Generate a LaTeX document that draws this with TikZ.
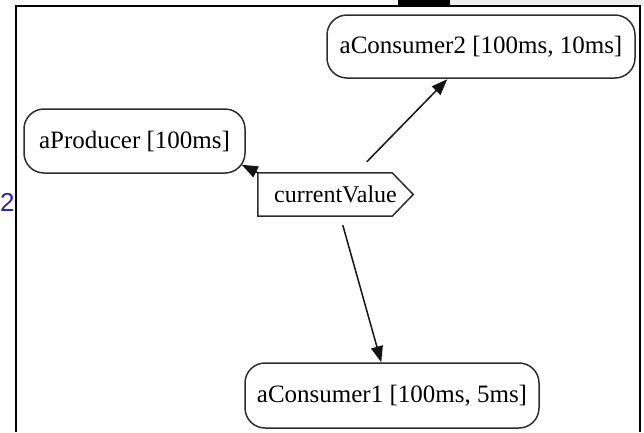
\documentclass[tikz,border=0pt]{standalone}
\usepackage{fontspec}
\setmainfont{Liberation Serif}
\newfontfamily\labelsans{Liberation Sans}
\usetikzlibrary{arrows.meta,calc}
\definecolor{edgegray}{RGB}{20,20,20}
\definecolor{boxgray}{RGB}{45,45,45}
\definecolor{tabblue}{RGB}{40,40,165}
\definecolor{bargray}{RGB}{238,238,238}
\tikzset{
  task/.style={draw=boxgray, line width=1.5pt, rounded corners=20pt,
    inner sep=0pt, font=\fontsize{25}{28}\selectfont},
  valuetext/.style={inner sep=0pt, font=\fontsize{24}{28}\selectfont},
  flow/.style={draw=edgegray, line width=1.5pt,
    -{Triangle[length=16pt,width=12pt]}},
}
\begin{document}
\begin{tikzpicture}[x=1pt,y=-1pt]
  \useasboundingbox (0,0) rectangle (644,432);
  \fill[white] (0,0) rectangle (644,432);

  % window chrome above the frame
  \fill[bargray] (450,0) rectangle (644,4.5);
  \fill[black] (398,0) rectangle (450,5.5);
  \draw[line width=2pt, black] (16,432) -- (16,6) -- (640,6) -- (640,432);

  % partly visible tab label on the left
  \node[anchor=west, inner sep=0pt, text=tabblue,
        font=\labelsans\fontsize{26}{30}\selectfont] (tab) at (0,202) {2};

  % task nodes
  \node[task, minimum width=221pt, minimum height=64pt] (prod) at (134.5,141) {aProducer [100ms]};
  \node[task, minimum width=308pt, minimum height=63pt] (cons2) at (481,46.5) {aConsumer2 [100ms, 10ms]};
  \node[task, minimum width=294pt, minimum height=65pt] (cons1) at (392,395.5) {aConsumer1 [100ms, 5ms]};

  % shared value: pointed tag shape
  \node[valuetext, minimum width=155pt, minimum height=43pt] (cv) at (335.5,194.5) {currentValue};
  \draw[boxgray, line width=1.5pt, line join=miter]
    (cv.north west) -- ($(cv.north east)+(-21,0)$) -- (cv.east)
    -- ($(cv.south east)+(-21,0)$) -- (cv.south west) -- cycle;

  % connector end points
  \coordinate (prodin) at ($(prod.south east)+(-4,-9)$);
  \coordinate (cvout2) at ($(cv.north west)+(109,-11)$);
  \coordinate (cons2in) at ($(cons2.south west)+(121,0.5)$);
  \coordinate (cvout1) at ($(cv.south west)+(85,9)$);
  \coordinate (cons1in) at ($(cons1.north west)+(137,0)$);

  % connectors
  \draw[flow] (cv.north west) -- (prodin);
  \draw[flow] (cvout2) -- (cons2in);
  \draw[flow] (cvout1) -- (cons1in);
\end{tikzpicture}
\end{document}
